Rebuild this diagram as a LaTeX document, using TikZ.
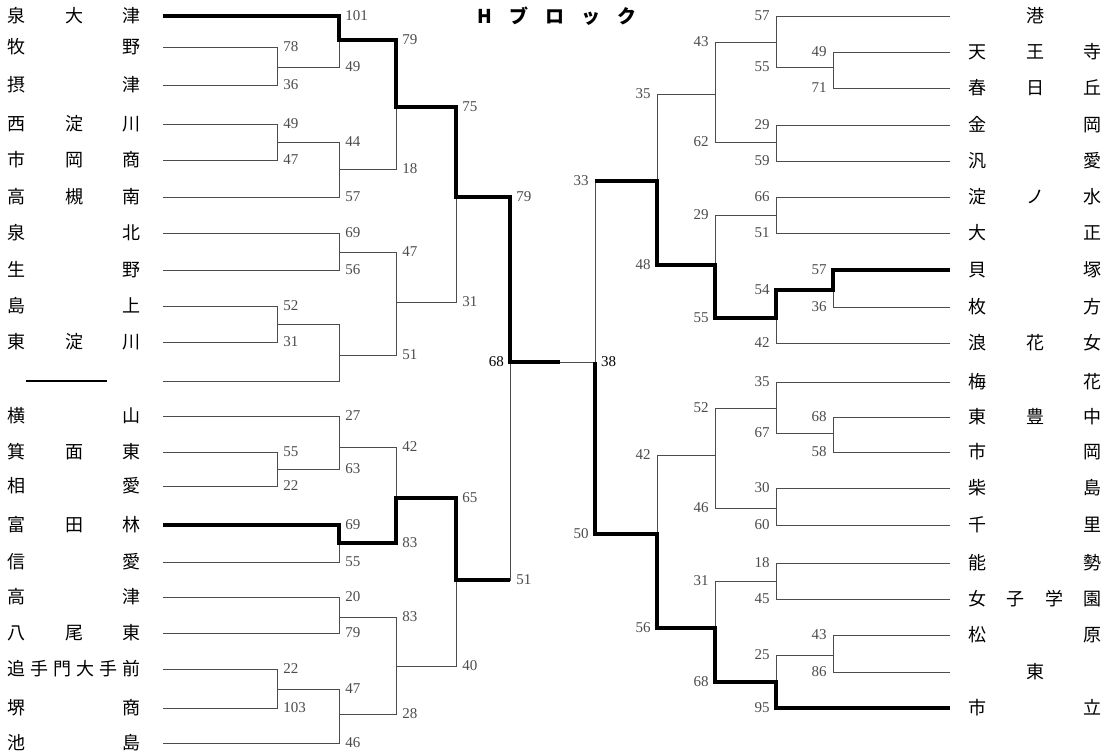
\documentclass[tikz,border=0pt]{standalone}
\usepackage{fontspec}
\setmainfont{Liberation Serif}
\newfontfamily\jp{Noto Sans CJK JP}
\newcommand\spread[1]{\makebox[133pt][s]{#1}}
\tikzset{
  team/.style={font=\jp\fontsize{18}{18}\selectfont, inner sep=0pt, text height=15.8pt, text depth=2.2pt},
  heading/.style={font=\jp\bfseries\fontsize{19}{19}\selectfont, inner sep=0pt},
  ln/.style={line width=0.9pt, black!70},
  win/.style={line width=3.4pt, black},
  sl/.style={font=\fontsize{15}{15}\selectfont, inner sep=1pt, anchor=west, xshift=5pt},
  sr/.style={font=\fontsize{15}{15}\selectfont, inner sep=1pt, anchor=east, xshift=-5pt}
}
\begin{document}
\begin{tikzpicture}[x=1pt, y=-1pt]
\path[use as bounding box, fill=white] (0,0) rectangle (1116,754);
\node[heading] (ttl) at (557,16) {H\hspace{17pt}ブ\hspace{17pt}ロ\hspace{17pt}ッ\hspace{17pt}ク};
% left teams
\node[team] (t1) at (74.5,16) {\spread{泉 大 津}}; \coordinate (a1) at (163,16);
\node[team] (t2) at (74.5,47) {\spread{牧 野}}; \coordinate (a2) at (163,47);
\node[team] (t3) at (74.5,85) {\spread{摂 津}}; \coordinate (a3) at (163,85);
\node[team] (t4) at (74.5,124) {\spread{西 淀 川}}; \coordinate (a4) at (163,124);
\node[team] (t5) at (74.5,160) {\spread{市 岡 商}}; \coordinate (a5) at (163,160);
\node[team] (t6) at (74.5,197) {\spread{高 槻 南}}; \coordinate (a6) at (163,197);
\node[team] (t7) at (74.5,233) {\spread{泉 北}}; \coordinate (a7) at (163,233);
\node[team] (t8) at (74.5,270) {\spread{生 野}}; \coordinate (a8) at (163,270);
\node[team] (t9) at (74.5,306) {\spread{島 上}}; \coordinate (a9) at (163,306);
\node[team] (t10) at (74.5,342) {\spread{東 淀 川}}; \coordinate (a10) at (163,342);
\node[team] (t11) at (66.5,381) {\rule[6.2pt]{81pt}{1.2pt}}; \coordinate (a11) at (163,381);
\node[team] (t12) at (74.5,416) {\spread{横 山}}; \coordinate (a12) at (163,416);
\node[team] (t13) at (74.5,452) {\spread{箕 面 東}}; \coordinate (a13) at (163,452);
\node[team] (t14) at (74.5,486) {\spread{相 愛}}; \coordinate (a14) at (163,486);
\node[team] (t15) at (74.5,525) {\spread{富 田 林}}; \coordinate (a15) at (163,525);
\node[team] (t16) at (74.5,562) {\spread{信 愛}}; \coordinate (a16) at (163,562);
\node[team] (t17) at (74.5,597) {\spread{高 津}}; \coordinate (a17) at (163,597);
\node[team] (t18) at (74.5,633) {\spread{八 尾 東}}; \coordinate (a18) at (163,633);
\node[team] (t19) at (74.5,669) {\spread{追 手 門 大 手 前}}; \coordinate (a19) at (163,669);
\node[team] (t20) at (74.5,708) {\spread{堺 商}}; \coordinate (a20) at (163,708);
\node[team] (t21) at (74.5,743) {\spread{池 島}}; \coordinate (a21) at (163,743);
% right teams
\node[team] (u1) at (1035,16) {\spread{\hfil 港\hfil}}; \coordinate (b1) at (950,16);
\node[team] (u2) at (1035,52) {\spread{天 王 寺}}; \coordinate (b2) at (950,52);
\node[team] (u3) at (1035,88) {\spread{春 日 丘}}; \coordinate (b3) at (950,88);
\node[team] (u4) at (1035,125) {\spread{金 岡}}; \coordinate (b4) at (950,125);
\node[team] (u5) at (1035,161) {\spread{汎 愛}}; \coordinate (b5) at (950,161);
\node[team] (u6) at (1035,197) {\spread{淀 ノ 水}}; \coordinate (b6) at (950,197);
\node[team] (u7) at (1035,233) {\spread{大 正}}; \coordinate (b7) at (950,233);
\node[team] (u8) at (1035,270) {\spread{貝 塚}}; \coordinate (b8) at (950,270);
\node[team] (u9) at (1035,307) {\spread{枚 方}}; \coordinate (b9) at (950,307);
\node[team] (u10) at (1035,343) {\spread{浪 花 女}}; \coordinate (b10) at (950,343);
\node[team] (u11) at (1035,382) {\spread{梅 花}}; \coordinate (b11) at (950,382);
\node[team] (u12) at (1035,417) {\spread{東 豊 中}}; \coordinate (b12) at (950,417);
\node[team] (u13) at (1035,452) {\spread{市 岡}}; \coordinate (b13) at (950,452);
\node[team] (u14) at (1035,488) {\spread{柴 島}}; \coordinate (b14) at (950,488);
\node[team] (u15) at (1035,525) {\spread{千 里}}; \coordinate (b15) at (950,525);
\node[team] (u16) at (1035,563) {\spread{能 勢}}; \coordinate (b16) at (950,563);
\node[team] (u17) at (1035,599) {\spread{女 子 学 園}}; \coordinate (b17) at (950,599);
\node[team] (u18) at (1035,635) {\spread{松 原}}; \coordinate (b18) at (950,635);
\node[team] (u19) at (1035,672) {\spread{\hfil 東\hfil}}; \coordinate (b19) at (950,672);
\node[team] (u20) at (1035,708) {\spread{市 立}}; \coordinate (b20) at (950,708);
% left matches
\coordinate (m1) at (277,67); \coordinate (m2) at (339,40); \coordinate (m3) at (277,142);
\coordinate (m4) at (339,169); \coordinate (m5) at (396,107); \coordinate (m6) at (339,252);
\coordinate (m7) at (277,324); \coordinate (m8) at (339,355); \coordinate (m9) at (396,302);
\coordinate (m10) at (456,197); \coordinate (m11) at (277,469); \coordinate (m12) at (339,447);
\coordinate (m13) at (339,543); \coordinate (m14) at (396,498); \coordinate (m15) at (339,617);
\coordinate (m16) at (277,689); \coordinate (m17) at (339,714); \coordinate (m18) at (396,666);
\coordinate (m19) at (456,580); \coordinate (m20) at (510,362); \coordinate (c0) at (560,362);
% right matches
\coordinate (n1) at (833,67); \coordinate (n2) at (776,42); \coordinate (n3) at (776,142);
\coordinate (n4) at (715,94); \coordinate (n5) at (776,215); \coordinate (n6) at (833,290);
\coordinate (n7) at (776,318); \coordinate (n8) at (715,265); \coordinate (n9) at (657,181);
\coordinate (n10) at (833,433); \coordinate (n11) at (776,408); \coordinate (n12) at (776,508);
\coordinate (n13) at (715,455); \coordinate (n14) at (776,581); \coordinate (n15) at (833,655);
\coordinate (n16) at (776,682); \coordinate (n17) at (715,628); \coordinate (n18) at (657,534);
\coordinate (n19) at (595,362);
% left bracket
\draw[ln] (a2) -| node[sl] (s1) {78} (m1) (a3) -| node[sl] (s2) {36} (m1);
\draw[ln] (a1) -| node[sl] (s3) {101} (m2) (m1) -| node[sl] (s4) {49} (m2);
\draw[ln] (a4) -| node[sl] (s5) {49} (m3) (a5) -| node[sl] (s6) {47} (m3);
\draw[ln] (m3) -| node[sl] (s7) {44} (m4) (a6) -| node[sl] (s8) {57} (m4);
\draw[ln] (m2) -| node[sl] (s9) {79} (m5) (m4) -| node[sl] (s10) {18} (m5);
\draw[ln] (a7) -| node[sl] (s11) {69} (m6) (a8) -| node[sl] (s12) {56} (m6);
\draw[ln] (a9) -| node[sl] (s13) {52} (m7) (a10) -| node[sl] (s14) {31} (m7);
\draw[ln] (m7) -| (m8) (a11) -| (m8);
\draw[ln] (m6) -| node[sl] (s15) {47} (m9) (m8) -| node[sl] (s16) {51} (m9);
\draw[ln] (m5) -| node[sl] (s17) {75} (m10) (m9) -| node[sl] (s18) {31} (m10);
\draw[ln] (a13) -| node[sl] (s19) {55} (m11) (a14) -| node[sl] (s20) {22} (m11);
\draw[ln] (a12) -| node[sl] (s21) {27} (m12) (m11) -| node[sl] (s22) {63} (m12);
\draw[ln] (a15) -| node[sl] (s23) {69} (m13) (a16) -| node[sl] (s24) {55} (m13);
\draw[ln] (m12) -| node[sl] (s25) {42} (m14) (m13) -| node[sl] (s26) {83} (m14);
\draw[ln] (a17) -| node[sl] (s27) {20} (m15) (a18) -| node[sl] (s28) {79} (m15);
\draw[ln] (a19) -| node[sl] (s29) {22} (m16) (a20) -| node[sl] (s30) {103} (m16);
\draw[ln] (m16) -| node[sl] (s31) {47} (m17) (a21) -| node[sl] (s32) {46} (m17);
\draw[ln] (m15) -| node[sl] (s33) {83} (m18) (m17) -| node[sl] (s34) {28} (m18);
\draw[ln] (m14) -| node[sl] (s35) {65} (m19) (m18) -| node[sl] (s36) {40} (m19);
\draw[ln] (m10) -| node[sl] (s37) {79} (m20) (m19) -| node[sl] (s38) {51} (m20);
% right bracket
\draw[ln] (b2) -| node[sr] (r1) {49} (n1) (b3) -| node[sr] (r2) {71} (n1);
\draw[ln] (b1) -| node[sr] (r3) {57} (n2) (n1) -| node[sr] (r4) {55} (n2);
\draw[ln] (b4) -| node[sr] (r5) {29} (n3) (b5) -| node[sr] (r6) {59} (n3);
\draw[ln] (n2) -| node[sr] (r7) {43} (n4) (n3) -| node[sr] (r8) {62} (n4);
\draw[ln] (b6) -| node[sr] (r9) {66} (n5) (b7) -| node[sr] (r10) {51} (n5);
\draw[ln] (b8) -| node[sr] (r11) {57} (n6) (b9) -| node[sr] (r12) {36} (n6);
\draw[ln] (n6) -| node[sr] (r13) {54} (n7) (b10) -| node[sr] (r14) {42} (n7);
\draw[ln] (n5) -| node[sr] (r15) {29} (n8) (n7) -| node[sr] (r16) {55} (n8);
\draw[ln] (n4) -| node[sr] (r17) {35} (n9) (n8) -| node[sr] (r18) {48} (n9);
\draw[ln] (b12) -| node[sr] (r19) {68} (n10) (b13) -| node[sr] (r20) {58} (n10);
\draw[ln] (b11) -| node[sr] (r21) {35} (n11) (n10) -| node[sr] (r22) {67} (n11);
\draw[ln] (b14) -| node[sr] (r23) {30} (n12) (b15) -| node[sr] (r24) {60} (n12);
\draw[ln] (n11) -| node[sr] (r25) {52} (n13) (n12) -| node[sr] (r26) {46} (n13);
\draw[ln] (b16) -| node[sr] (r27) {18} (n14) (b17) -| node[sr] (r28) {45} (n14);
\draw[ln] (b18) -| node[sr] (r29) {43} (n15) (b19) -| node[sr] (r30) {86} (n15);
\draw[ln] (n15) -| node[sr] (r31) {25} (n16) (b20) -| node[sr] (r32) {95} (n16);
\draw[ln] (n14) -| node[sr] (r33) {31} (n17) (n16) -| node[sr] (r34) {68} (n17);
\draw[ln] (n13) -| node[sr] (r35) {42} (n18) (n17) -| node[sr] (r36) {56} (n18);
\draw[ln] (n9) -| node[sr] (r37) {33} (n19) (n18) -| node[sr] (r38) {50} (n19);
% final
\draw[ln] (c0) -- (n19);
\node[sr] (f1) at (m20) {68}; \node[sl] (f2) at (n19) {38};
% winners
\draw[win] (a1) -| (m2) -| (m5) -| (m10) -| (m20) -- (c0);
\draw[win] (a15) -| (m13) -| (m14) -| (m19) -- (m19 -| m20);
\draw[win] (b8) -| (n6) -| (n7) -| (n8) -| (n9) -- (n9 -| n19);
\draw[win] (b20) -| (n16) -| (n17) -| (n18) -| (n19);
\end{tikzpicture}
\end{document}
